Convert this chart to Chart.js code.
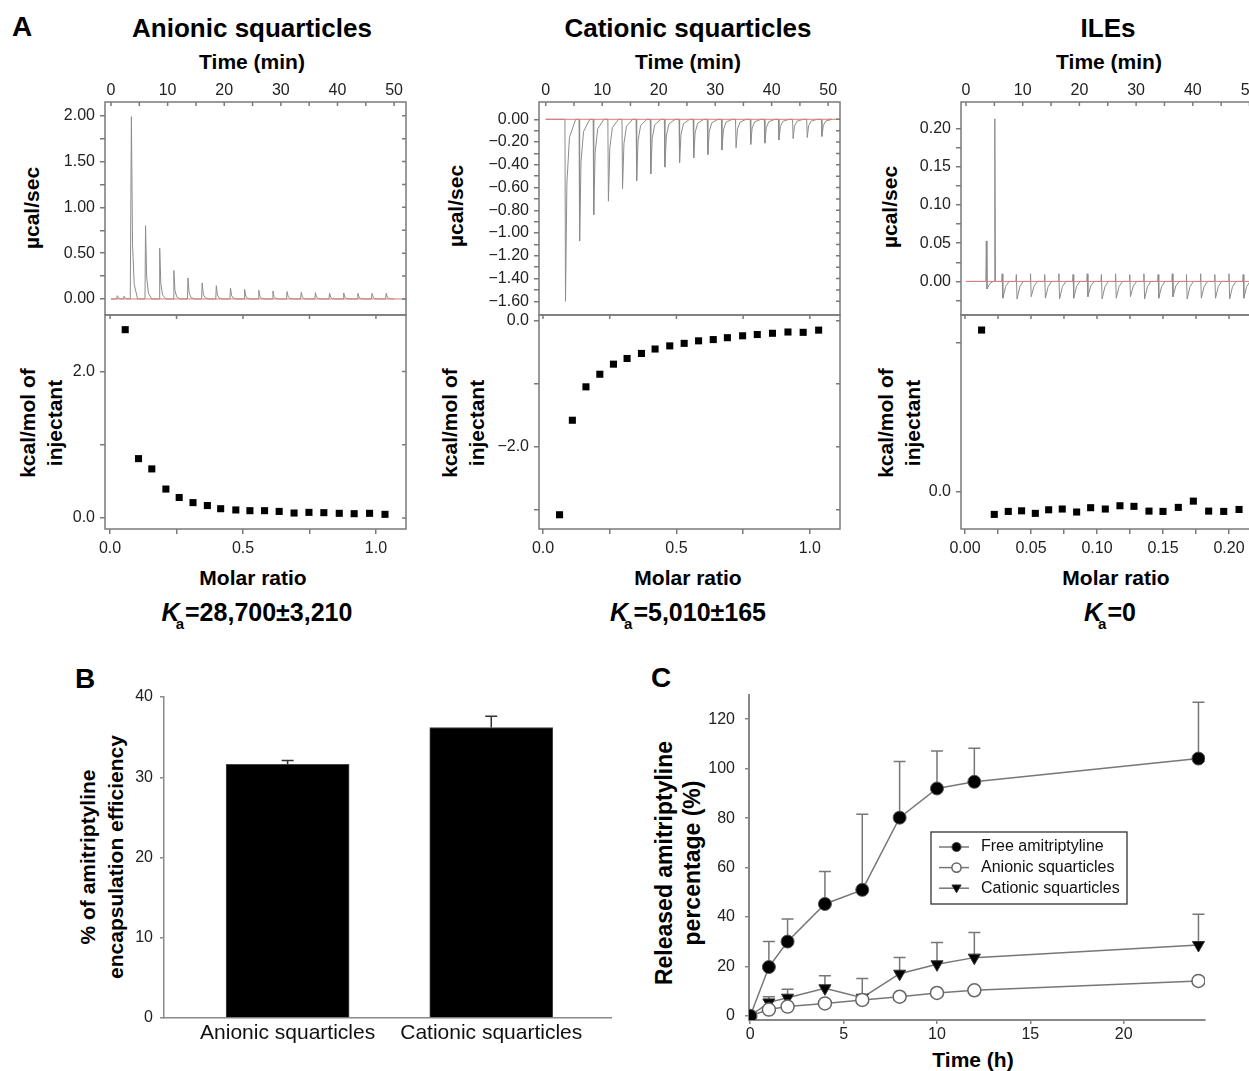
<!DOCTYPE html>
<html>
<head>
<meta charset="utf-8">
<title>ITC, encapsulation and release</title>
<script src="https://cdn.jsdelivr.net/npm/chart.js@4.4.1/dist/chart.umd.min.js"></script>
<style>
  html, body { margin: 0; padding: 0; background: #fff; }
  body { position: relative; width: 1249px; height: 1071px; overflow: hidden; font-family: 'Liberation Sans', Arial, sans-serif; color: #000; }
  canvas { position: absolute; }
  .t { position: absolute; transform: translate(-50%, -50%); white-space: nowrap; line-height: 1; font-weight: bold; }
  .rot { transform: translate(-50%, -50%) rotate(-90deg); text-align: center; }
  .ka sub { font-size: 15px; vertical-align: baseline; position: relative; top: 8px; margin-left: -4px; margin-right: 1px; }
</style>
</head>
<body>

<!-- panel A labels -->
<div class="t" style="left:22px;top:27px;font-size:28px">A</div>
<div class="t" style="left:252px;top:28px;font-size:26px">Anionic squarticles</div>
<div class="t" style="left:688px;top:28px;font-size:26px">Cationic squarticles</div>
<div class="t" style="left:1108px;top:28px;font-size:26px">ILEs</div>

<div class="t" style="left:252px;top:61px;font-size:21px">Time (min)</div>
<div class="t" style="left:688px;top:61px;font-size:21px">Time (min)</div>
<div class="t" style="left:1109px;top:61px;font-size:21px">Time (min)</div>

<div class="t rot" style="left:31px;top:208px;font-size:21px">µcal/sec</div>
<div class="t rot" style="left:455px;top:206px;font-size:21px">µcal/sec</div>
<div class="t rot" style="left:889px;top:207px;font-size:21px">µcal/sec</div>

<div class="t rot" style="left:41px;top:423px;font-size:21px;line-height:27px">kcal/mol of<br>injectant</div>
<div class="t rot" style="left:463px;top:423px;font-size:21px;line-height:27px">kcal/mol of<br>injectant</div>
<div class="t rot" style="left:899px;top:423px;font-size:21px;line-height:27px">kcal/mol of<br>injectant</div>

<div class="t" style="left:253px;top:577px;font-size:21px">Molar ratio</div>
<div class="t" style="left:688px;top:577px;font-size:21px">Molar ratio</div>
<div class="t" style="left:1116px;top:577px;font-size:21px">Molar ratio</div>

<div class="t ka" style="left:257px;top:612px;font-size:25px"><i>K</i><sub>a</sub>=28,700±3,210</div>
<div class="t ka" style="left:688px;top:612px;font-size:25px"><i>K</i><sub>a</sub>=5,010±165</div>
<div class="t ka" style="left:1110px;top:612px;font-size:25px"><i>K</i><sub>a</sub>=0</div>

<!-- panel B labels -->
<div class="t" style="left:85px;top:679px;font-size:28px">B</div>
<div class="t rot" style="left:102px;top:857px;font-size:21px;line-height:28px">% of amitriptyline<br>encapsulation efficiency</div>

<!-- panel C labels -->
<div class="t" style="left:661px;top:678px;font-size:28px">C</div>
<div class="t rot" style="left:678px;top:863px;font-size:23px;line-height:28px">Released amitriptyline<br>percentage (%)</div>
<div class="t" style="left:973px;top:1059px;font-size:21px">Time (h)</div>

<canvas id="anTop"></canvas>
<canvas id="catTop"></canvas>
<canvas id="ileTop"></canvas>
<canvas id="anBot"></canvas>
<canvas id="catBot"></canvas>
<canvas id="ileBot"></canvas>
<canvas id="encap"></canvas>
<canvas id="release"></canvas>

<script>
// ---------- Panel A: raw heat traces (injection time in min, peak height in µcal/sec)
const anionicPeakTimes = [1.0, 2.2, 3.5, 6.0, 8.5, 11.0, 13.5, 16.0, 18.5, 21.0, 23.5, 26.0, 28.5, 31.0, 33.5, 36.0, 38.5, 41.0, 43.5, 46.0, 48.5];
const anionicPeakHeights = [0.036, 0.03, 1.99, 0.80, 0.555, 0.31, 0.23, 0.175, 0.145, 0.12, 0.105, 0.095, 0.087, 0.08, 0.073, 0.069, 0.065, 0.065, 0.062, 0.062, 0.062];

const cationicPeakTimes = [3.4, 5.9, 8.4, 11.0, 13.5, 16.0, 18.5, 21.0, 23.6, 26.1, 28.6, 31.1, 33.6, 36.2, 38.7, 41.2, 43.7, 46.2, 48.8];
const cationicPeakHeights = [-1.60, -1.07, -0.84, -0.72, -0.61, -0.54, -0.48, -0.42, -0.38, -0.34, -0.31, -0.27, -0.25, -0.22, -0.21, -0.18, -0.17, -0.16, -0.15];

const ilePeakTimes = [3.5, 5.0, 6.3, 8.8, 11.3, 13.8, 16.3, 18.8, 21.3, 23.8, 26.3, 28.8, 31.3, 33.8, 36.3, 38.8, 41.3, 43.8, 46.3, 48.8, 51.3];
const ilePeakUp = [0.053, 0.213, 0.010, 0.009, 0.010, 0.009, 0.010, 0.009, 0.010, 0.009, 0.010, 0.009, 0.010, 0.009, 0.010, 0.009, 0.010, 0.009, 0.010, 0.009, 0.010];
const ilePeakDown = [-0.010, 0.0, -0.022, -0.023, -0.020, -0.022, -0.023, -0.022, -0.020, -0.023, -0.022, -0.020, -0.023, -0.022, -0.020, -0.023, -0.022, -0.022, -0.023, -0.022, -0.022];

// ---------- Panel A: integrated heats (molar ratio vs kcal/mol of injectant)
const anionicMolar = [0.057, 0.107, 0.157, 0.21, 0.26, 0.312, 0.366, 0.416, 0.473, 0.526, 0.581, 0.636, 0.692, 0.748, 0.804, 0.862, 0.918, 0.976, 1.034];
const anionicHeat = [2.57, 0.81, 0.67, 0.395, 0.28, 0.21, 0.17, 0.127, 0.11, 0.10, 0.10, 0.09, 0.068, 0.077, 0.073, 0.064, 0.059, 0.064, 0.05];
const cationicMolar = [0.062, 0.11, 0.161, 0.213, 0.264, 0.315, 0.369, 0.42, 0.475, 0.529, 0.583, 0.638, 0.691, 0.748, 0.803, 0.86, 0.918, 0.975, 1.033];
const cationicHeat = [-3.08, -1.58, -1.05, -0.85, -0.69, -0.60, -0.52, -0.45, -0.40, -0.36, -0.32, -0.30, -0.27, -0.24, -0.22, -0.20, -0.18, -0.185, -0.15];
const ileMolar = [0.0126, 0.0222, 0.0328, 0.0429, 0.0533, 0.0634, 0.0737, 0.0846, 0.0952, 0.1063, 0.1174, 0.128, 0.1394, 0.150, 0.1616, 0.173, 0.1846, 0.196, 0.2076];
const ileHeat = [1.085, -0.152, -0.132, -0.128, -0.145, -0.121, -0.116, -0.136, -0.107, -0.116, -0.094, -0.098, -0.130, -0.132, -0.105, -0.063, -0.130, -0.132, -0.119];

// tick positions
const timeTicks = [0, 5, 10, 15, 20, 25, 30, 35, 40, 45, 50];
const anionicRateTicks = [0, 0.25, 0.5, 0.75, 1, 1.25, 1.5, 1.75, 2];
const cationicRateTicks = [0, -0.1, -0.2, -0.3, -0.4, -0.5, -0.6, -0.7, -0.8, -0.9, -1.0, -1.1, -1.2, -1.3, -1.4, -1.5, -1.6];
const ileRateTicks = [-0.025, 0, 0.025, 0.05, 0.075, 0.1, 0.125, 0.15, 0.175, 0.2];
const molarTicks = [0, 0.25, 0.5, 0.75, 1];
const ileMolarTicks = [0, 0.025, 0.05, 0.075, 0.1, 0.125, 0.15, 0.175, 0.2, 0.225];
const anionicHeatTicks = [0, 1, 2];
const cationicHeatTicks = [0, -1, -2, -3];
const ileHeatTicks = [0, 1];

// ---------- Panel B: encapsulation efficiency
const encapCategories = ['Anionic squarticles', 'Cationic squarticles'];
const encapValues = [31.6, 36.2];
const encapErrors = [0.5, 1.4];
const encapTicks = [0, 10, 20, 30, 40];

// ---------- Panel C: release over time
const releaseHours = [0, 1, 2, 4, 6, 8, 10, 12, 24];
const freeRelease = [0, 19.8, 30.1, 45.3, 51.0, 80.2, 92.0, 94.7, 104.1];
const freeErrors = [0, 10.3, 9.1, 13.1, 30.6, 22.7, 15.2, 13.6, 22.8];
const anionicRelease = [0, 2.6, 3.8, 5.1, 6.5, 7.8, 9.3, 10.4, 14.2];
const cationicRelease = [0, 5.5, 7.4, 11.2, 7.4, 17.1, 20.9, 23.6, 28.7];
const cationicErrors = [0, 2.3, 3.4, 5.1, 7.8, 6.6, 8.8, 10.2, 12.4];
const hourTicks = [0, 5, 10, 15, 20];
const releaseTicks = [0, 20, 40, 60, 80, 100, 120];

const FONT = "'Liberation Sans', Arial, sans-serif";
Chart.defaults.font.family = FONT;
Chart.defaults.color = '#222';
Chart.defaults.animation = false;

// peak outline: [minutes after injection, fraction of peak height]
const shortPeak = [[0, 0], [0.1, 1], [0.3, 0.3], [0.6, 0.08], [1.2, 0]];
const longPeak = [[0, 0], [0.1, 1], [0.35, 0.35], [0.8, 0.1], [1.9, 0]];

function peakTrace(times, heights, shape, end) {
  const pts = [{x: 0, y: 0}];
  times.forEach((t, i) => shape.forEach(s => pts.push({x: t + s[0], y: heights[i] * s[1]})));
  pts.push({x: end, y: 0});
  return pts;
}

function ileTrace(times, ups, downs, end) {
  const pts = [{x: 0, y: 0}];
  times.forEach((t, i) => {
    pts.push({x: t, y: 0}, {x: t + 0.08, y: ups[i]}, {x: t + 0.2, y: downs[i]},
             {x: t + 0.7, y: downs[i] * 0.3}, {x: t + 1.3, y: 0});
  });
  pts.push({x: end, y: 0});
  return pts;
}

function pairs(xs, ys) { return xs.map((x, i) => ({x: x, y: ys[i]})); }

function fmt(v, d) {
  const s = Math.abs(v).toFixed(d);
  return v < -1e-9 ? '\u2212' + s : s;
}
function every(step, d) {
  return v => Math.abs(v / step - Math.round(v / step)) < 1e-6 ? fmt(v, d) : '';
}
function setTicks(list) { return s => { s.ticks = list.map(v => ({value: v})); }; }
function fixY(w) { return s => { s.width = w; s.paddingTop = 0; s.paddingBottom = 0; }; }
function fixX(h) { return s => { s.height = h; s.paddingLeft = 0; s.paddingRight = 0; }; }

function place(id, left, top, w, h) {
  const c = document.getElementById(id);
  c.width = w; c.height = h;
  c.style.left = left + 'px'; c.style.top = top + 'px';
  return c;
}

// box around each ITC plot, with inward ticks on the unlabeled sides
const framePlugin = {
  id: 'frame',
  afterDatasetsDraw(chart) {
    const a = chart.chartArea, ctx = chart.ctx;
    const xs = chart.scales.x, ys = chart.scales.y;
    ctx.save();
    ctx.strokeStyle = '#7a7a7a';
    ctx.lineWidth = 1.5;
    ctx.strokeRect(a.left, a.top, a.right - a.left, a.bottom - a.top);
    ctx.beginPath();
    ys.ticks.forEach(t => {
      const p = ys.getPixelForValue(t.value);
      ctx.moveTo(a.right, p); ctx.lineTo(a.right - 4, p);
    });
    xs.ticks.forEach(t => {
      const p = xs.getPixelForValue(t.value);
      ctx.moveTo(p, a.top); ctx.lineTo(p, a.top + 4);
    });
    ctx.stroke();
    ctx.restore();
  }
};

function thermogram(id, left, xr, yr, yTicks, yLabel, trace) {
  place(id, left, 60, 371, 260);
  return new Chart(document.getElementById(id), {
    type: 'scatter',
    data: {
      datasets: [
        {data: [{x: 0, y: 0}, {x: xr[1], y: 0}], showLine: true, borderColor: '#e07a7a', borderWidth: 1, pointRadius: 0},
        {data: trace, showLine: true, borderColor: '#8c8c8c', borderWidth: 1, pointRadius: 0}
      ]
    },
    options: {
      responsive: false,
      layout: {padding: {top: 0, right: 10, bottom: 5, left: 0}},
      plugins: {legend: {display: false}, tooltip: {enabled: false}},
      scales: {
        x: {
          type: 'linear', position: 'top', min: xr[0], max: xr[1],
          afterBuildTicks: setTicks(timeTicks), afterFit: fixX(42),
          ticks: {callback: every(10, 0), font: {size: 16}, padding: 2, maxRotation: 0, autoSkip: false},
          grid: {display: false, drawTicks: false}, border: {display: false}
        },
        y: {
          min: yr[0], max: yr[1],
          afterBuildTicks: setTicks(yTicks), afterFit: fixY(60),
          ticks: {callback: yLabel, font: {size: 16}, padding: 5, autoSkip: false},
          grid: {drawOnChartArea: false, tickLength: 5, color: '#7a7a7a', lineWidth: 1.5},
          border: {display: false}
        }
      }
    },
    plugins: [framePlugin]
  });
}

function isotherm(id, left, xr, yr, xTicks, xLabel, yTicks, points) {
  place(id, left, 310, 371, 250);
  return new Chart(document.getElementById(id), {
    type: 'scatter',
    data: {
      datasets: [{data: points, pointStyle: 'rect', pointRadius: 5, pointBackgroundColor: '#000', pointBorderColor: '#000', pointBorderWidth: 0}]
    },
    options: {
      responsive: false,
      layout: {padding: {top: 5, right: 10, bottom: 0, left: 0}},
      plugins: {legend: {display: false}, tooltip: {enabled: false}},
      scales: {
        x: {
          type: 'linear', position: 'bottom', min: xr[0], max: xr[1],
          afterBuildTicks: setTicks(xTicks), afterFit: fixX(31),
          ticks: {callback: xLabel, font: {size: 16}, padding: 5, maxRotation: 0, autoSkip: false},
          grid: {drawOnChartArea: false, tickLength: 5, color: '#7a7a7a', lineWidth: 1.5},
          border: {display: false}
        },
        y: {
          min: yr[0], max: yr[1],
          afterBuildTicks: setTicks(yTicks), afterFit: fixY(60),
          ticks: {callback: every(2, 1), font: {size: 16}, padding: 5, autoSkip: false},
          grid: {drawOnChartArea: false, tickLength: 5, color: '#7a7a7a', lineWidth: 1.5},
          border: {display: false}
        }
      }
    },
    plugins: [framePlugin]
  });
}

thermogram('anTop', 45, [-1.06, 52.1], [-0.175, 2.15], anionicRateTicks, every(0.5, 2),
  peakTrace(anionicPeakTimes, anionicPeakHeights, shortPeak, 50));
thermogram('catTop', 479, [-1.19, 52.1], [-1.72, 0.152], cationicRateTicks, every(0.2, 2),
  peakTrace(cationicPeakTimes, cationicPeakHeights, longPeak, 50));
thermogram('ileTop', 901, [-0.88, 52.2], [-0.044, 0.235], ileRateTicks, every(0.05, 2),
  ileTrace(ilePeakTimes, ilePeakUp, ilePeakDown, 52.2));

isotherm('anBot', 45, [-0.019, 1.113], [-0.15, 2.77], molarTicks, every(0.5, 1), anionicHeatTicks,
  pairs(anionicMolar, anionicHeat));
isotherm('catBot', 479, [-0.015, 1.113], [-3.306, 0.09], molarTicks, every(0.5, 1), cationicHeatTicks,
  pairs(cationicMolar, cationicHeat));
isotherm('ileBot', 901, [-0.003, 0.225], [-0.25, 1.186], ileMolarTicks, every(0.05, 2), ileHeatTicks,
  pairs(ileMolar, ileHeat));

// ---------- error bars (upper side only)
function drawErrorBars(chart, o) {
  const ctx = chart.ctx, ys = chart.scales.y;
  ctx.save();
  ctx.strokeStyle = o.color;
  ctx.lineWidth = o.width;
  chart.data.datasets.forEach((ds, i) => {
    if (!ds.errors) return;
    chart.getDatasetMeta(i).data.forEach((el, j) => {
      const e = ds.errors[j];
      if (!e) return;
      const v = ds.data[j].y;
      const base = ys.getPixelForValue(v), top = ys.getPixelForValue(v + e);
      ctx.beginPath();
      ctx.moveTo(el.x, base); ctx.lineTo(el.x, top);
      ctx.moveTo(el.x - o.cap, top); ctx.lineTo(el.x + o.cap, top);
      ctx.stroke();
    });
  });
  ctx.restore();
}
const errorBarPlugin = {
  id: 'errorBars',
  beforeDatasetsDraw(chart, args, o) { if (o.under) drawErrorBars(chart, o); },
  afterDatasetsDraw(chart, args, o) { if (!o.under) drawErrorBars(chart, o); }
};

// ---------- Panel B
place('encap', 100, 680, 525, 370);
new Chart(document.getElementById('encap'), {
  type: 'bar',
  data: {
    datasets: [{
      data: pairs([0, 1], encapValues), errors: encapErrors,
      backgroundColor: '#000', borderColor: '#444', borderWidth: 1, barThickness: 123
    }]
  },
  options: {
    responsive: false,
    layout: {padding: {top: 17, right: 14, bottom: 0, left: 0}},
    plugins: {legend: {display: false}, tooltip: {enabled: false},
      errorBars: {color: '#333', width: 1.5, cap: 6, under: false}},
    scales: {
      x: {
        type: 'linear', min: -0.607, max: 1.588, offset: false,
        afterBuildTicks: setTicks([0, 1]), afterFit: fixX(32),
        ticks: {callback: v => encapCategories[v], font: {size: 21}, color: '#111', padding: 3, maxRotation: 0, autoSkip: false},
        grid: {display: false, drawTicks: false},
        border: {color: '#8a8a8a', width: 1.5}
      },
      y: {
        min: 0, max: 40,
        afterBuildTicks: setTicks(encapTicks), afterFit: fixY(64),
        ticks: {font: {size: 16}, padding: 7, color: '#222'},
        grid: {drawOnChartArea: false, tickLength: 4, color: '#8a8a8a', lineWidth: 1.5},
        border: {color: '#8a8a8a', width: 1.5}
      }
    }
  },
  plugins: [errorBarPlugin]
});

// ---------- Panel C
function drawMarker(ctx, ds, x, y) {
  const r = 4.6;
  ctx.beginPath();
  if (ds.pointStyle === 'triangle') {
    ctx.moveTo(x - r, y - r * 0.7); ctx.lineTo(x + r, y - r * 0.7); ctx.lineTo(x, y + r); ctx.closePath();
  } else {
    ctx.arc(x, y, r, 0, Math.PI * 2);
  }
  ctx.fillStyle = ds.pointBackgroundColor; ctx.fill();
  ctx.lineWidth = ds.pointBorderWidth; ctx.strokeStyle = ds.pointBorderColor; ctx.stroke();
}
const boxLegend = {
  id: 'boxLegend',
  afterDraw(chart, args, o) {
    const ctx = chart.ctx;
    ctx.save();
    ctx.strokeStyle = '#333'; ctx.lineWidth = 1.3;
    ctx.strokeRect(o.x, o.y, o.w, o.h);
    ctx.font = o.font; ctx.textBaseline = 'middle';
    chart.data.datasets.forEach((ds, i) => {
      const cy = o.y + o.first + i * o.gap;
      ctx.strokeStyle = ds.borderColor; ctx.lineWidth = ds.borderWidth;
      ctx.beginPath(); ctx.moveTo(o.x + 8, cy); ctx.lineTo(o.x + 38, cy); ctx.stroke();
      drawMarker(ctx, ds, o.x + 25.5, cy);
      ctx.fillStyle = '#111';
      ctx.fillText(ds.label, o.x + 50, cy);
    });
    ctx.restore();
  }
};

place('release', 690, 685, 525, 360);
new Chart(document.getElementById('release'), {
  type: 'scatter',
  data: {
    datasets: [
      {label: 'Free amitriptyline', data: pairs(releaseHours, freeRelease), errors: freeErrors, showLine: true,
       borderColor: '#777', borderWidth: 1.5, pointStyle: 'circle', pointRadius: 6.5,
       pointBackgroundColor: '#000', pointBorderColor: '#555', pointBorderWidth: 1},
      {label: 'Anionic squarticles', data: pairs(releaseHours, anionicRelease), showLine: true,
       borderColor: '#777', borderWidth: 1.5, pointStyle: 'circle', pointRadius: 6.5,
       pointBackgroundColor: '#fff', pointBorderColor: '#666', pointBorderWidth: 1.5},
      {label: 'Cationic squarticles', data: pairs(releaseHours, cationicRelease), errors: cationicErrors, showLine: true,
       borderColor: '#777', borderWidth: 1.5, pointStyle: 'triangle', rotation: 180, pointRadius: 7,
       pointBackgroundColor: '#000', pointBorderColor: '#333', pointBorderWidth: 1}
    ]
  },
  options: {
    responsive: false,
    layout: {padding: {top: 10, right: 10, bottom: 0, left: 0}},
    plugins: {legend: {display: false}, tooltip: {enabled: false},
      errorBars: {color: '#777', width: 1.5, cap: 6, under: true},
      boxLegend: {x: 241, y: 147, w: 196, h: 72, first: 15, gap: 20.6, font: '16px ' + FONT}},
    scales: {
      x: {
        type: 'linear', min: -0.065, max: 24.35,
        afterBuildTicks: setTicks(hourTicks), afterFit: fixX(25),
        ticks: {font: {size: 16}, padding: 1, maxRotation: 0, autoSkip: false, color: '#222'},
        grid: {drawOnChartArea: false, tickLength: 4, color: '#888', lineWidth: 1.5},
        border: {color: '#888', width: 2}
      },
      y: {
        min: -1.62, max: 129.8,
        afterBuildTicks: setTicks(releaseTicks), afterFit: fixY(59),
        ticks: {font: {size: 16}, padding: 10, color: '#222'},
        grid: {drawOnChartArea: false, tickLength: 4, color: '#888', lineWidth: 1.5},
        border: {color: '#888', width: 2}
      }
    }
  },
  plugins: [errorBarPlugin, boxLegend]
});
</script>
</body>
</html>
